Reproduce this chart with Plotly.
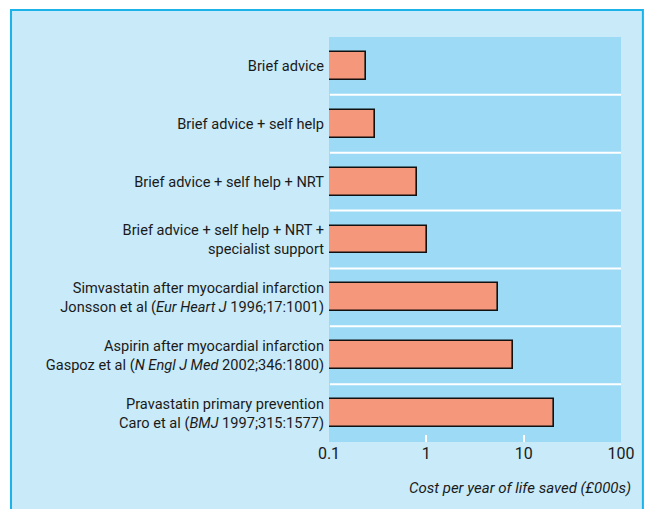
import plotly.graph_objects as go

categories = [
    "Brief advice",
    "Brief advice + self help",
    "Brief advice + self help + NRT",
    "Brief advice + self help + NRT +<br>specialist support",
    "Simvastatin after myocardial infarction<br>Jonsson et al (<i>Eur Heart J</i> 1996;17:1001)",
    "Aspirin after myocardial infarction<br>Gaspoz et al (<i>N Engl J Med</i> 2002;346:1800)",
    "Pravastatin primary prevention<br>Caro et al (<i>BMJ</i> 1997;315:1577)",
]
costs = [0.24, 0.30, 0.81, 1.02, 5.4, 7.7, 20.5]
x_tick_vals = [0.1, 1, 10, 100]
x_tick_text = ["0.1", "1", "10", "100"]
x_inner_ticks = [1, 10]
x_title = "<i>Cost per year of life saved (£000s)</i>"

FONT = "Roboto, Arial"
OUTER = "#c8eaf9"
INNER = "#9cdaf6"
BORDER = "#1ab3ea"
BAR = "#f5977a"

idx = list(range(len(categories)))

fig = go.Figure()
fig.add_trace(go.Bar(
    x=costs, y=idx, orientation="h",
    marker=dict(color=BAR, line=dict(color="#111111", width=1.6)),
    width=0.48, hoverinfo="skip",
))

# invisible trace for overlay axis carrying the inner white ticks
fig.add_trace(go.Scatter(x=[1], y=[0], xaxis="x2", mode="markers",
                         marker=dict(opacity=0), hoverinfo="skip", showlegend=False))

shapes = [
    dict(type="rect", xref="paper", yref="paper", x0=-1.089, x1=1.075, y0=-0.2, y1=1.0667,
         fillcolor=OUTER, line=dict(color=BORDER, width=2), layer="below"),
    dict(type="rect", xref="paper", yref="paper", x0=0, x1=1, y0=0, y1=1,
         fillcolor=INNER, line=dict(width=0), layer="below"),
]
for i in idx[:-1]:
    shapes.append(dict(type="line", xref="paper", yref="y", x0=0.003, x1=1,
                       y0=i + 0.5, y1=i + 0.5, line=dict(color="white", width=2), layer="below"))

fig.update_layout(
    width=645, height=509,
    margin=dict(l=329, r=24, t=37, b=67),
    paper_bgcolor="white", plot_bgcolor="rgba(0,0,0,0)",
    showlegend=False, bargap=0,
    font=dict(family=FONT, size=14.6, color="#1a1a1a"),
    shapes=shapes,
    xaxis=dict(type="log", range=[-1, 2], tickvals=x_tick_vals, ticktext=x_tick_text,
               ticks="", showgrid=False, zeroline=False, showline=False,
               tickfont=dict(size=16), fixedrange=True),
    xaxis2=dict(type="log", range=[-1, 2], overlaying="x", side="bottom",
                tickvals=x_inner_ticks, showticklabels=False, ticks="inside",
                ticklen=7, tickwidth=2, tickcolor="white", showgrid=False,
                showline=False, zeroline=False, fixedrange=True),
    yaxis=dict(tickvals=idx, ticktext=categories, range=[len(categories) - 0.5, -0.5],
               ticks="", showgrid=False, zeroline=False, showline=False,
               ticklabelstandoff=4, tickfont=dict(size=14.6), fixedrange=True),
    annotations=[dict(text=x_title, xref="paper", yref="paper", x=1.041, y=-0.114,
                      xanchor="right", yanchor="middle", showarrow=False,
                      font=dict(size=15, family=FONT))],
)

fig.write_html(
    "out.html",
    config={"displayModeBar": False},
    post_script="document.body.style.margin='0';document.body.style.overflow='hidden';",
)
